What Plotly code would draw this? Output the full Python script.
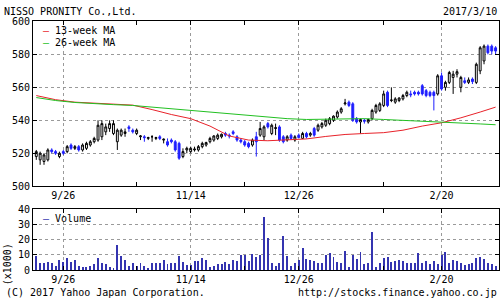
import pandas as pd
import plotly.graph_objects as go

# ---------------- data ----------------
holidays = ["2016-09-19", "2016-09-22", "2016-10-10", "2016-11-03", "2016-11-23",
            "2016-12-23", "2017-01-02", "2017-01-03", "2017-01-09"]
trade_days = pd.bdate_range("2016-09-13", "2017-03-10", freq="C", holidays=holidays)
dates = [f"{d.month}/{d.day}" for d in trade_days]

open_ = [518, 516, 515, 516, 522, 521, 518, 521, 521, 525,
         523, 524, 522, 523, 525, 527, 528, 530, 533, 535,
         532, 527, 531, 532, 536, 534, 532, 530, 530, 529,
         530, 529, 530, 528, 527, 528, 527, 526, 518, 522,
         521, 522, 522, 524, 525, 527, 528, 529, 530, 532,
         531, 533, 530, 528, 527, 526, 525, 530, 531, 530,
         538, 532, 535, 536, 530, 528, 531, 528, 531, 529,
         532, 531, 535, 534, 536, 537, 538, 540, 542, 545,
         550, 551, 550, 541, 539, 540, 539, 541, 545, 546,
         549, 557, 552, 551, 552, 553, 555, 556, 557, 557,
         561, 558, 557, 557, 556, 567, 560, 563, 566, 568,
         560, 564, 563, 565, 563, 570, 576, 585, 585, 584]
high = [522, 521, 520, 523, 523, 522, 521, 522, 525, 526,
        525, 525, 526, 527, 528, 530, 540, 540, 538, 540,
        540, 535, 535, 535, 537, 535, 535, 531, 531, 530,
        531, 530, 531, 529, 529, 529, 528, 527, 523, 524,
        524, 524, 525, 527, 527, 530, 531, 532, 532, 533,
        532, 534, 531, 529, 528, 527, 529, 533, 539, 537,
        539, 538, 538, 537, 531, 531, 532, 531, 532, 533,
        533, 533, 536, 538, 539, 541, 542, 543, 546, 548,
        553, 552, 551, 542, 541, 541, 541, 547, 550, 551,
        558, 558, 560, 554, 554, 556, 558, 558, 558, 558,
        562, 559, 558, 558, 568, 569, 564, 570, 570, 571,
        567, 566, 566, 566, 575, 585, 586, 586, 586, 585]
low = [516, 513, 513, 515, 520, 519, 517, 519, 520, 522,
       522, 521, 521, 522, 524, 526, 527, 528, 531, 533,
       531, 522, 530, 530, 533, 532, 531, 528, 527, 528,
       527, 528, 528, 526, 524, 526, 521, 516, 517, 520,
       520, 521, 521, 523, 524, 526, 527, 528, 529, 530,
       529, 531, 527, 526, 524, 523, 524, 518, 530, 528,
       535, 531, 531, 527, 526, 527, 528, 527, 529, 529,
       529, 530, 530, 533, 535, 536, 537, 539, 541, 544,
       549, 548, 539, 538, 532, 538, 538, 540, 544, 545,
       548, 548, 551, 550, 551, 552, 554, 554, 555, 555,
       555, 554, 554, 546, 555, 558, 558, 562, 556, 566,
       557, 562, 562, 562, 562, 568, 574, 580, 580, 580]
close = [521, 520, 519, 522, 521, 520, 520, 520, 524, 523,
         524, 522, 525, 526, 527, 529, 537, 538, 536, 538,
         538, 534, 534, 533, 535, 533, 534, 530.5, 529.5, 529.5,
         530, 529.5, 529, 528.5, 525, 527, 522, 517, 521, 523,
         523, 522.5, 524, 526, 526.5, 529, 530.5, 531, 531.5, 531,
         530.5, 532, 528, 527, 525, 524, 528, 527, 535, 536,
         536, 537, 535.5, 528, 527, 530, 529, 530, 529.5, 532,
         530, 532, 531, 537, 538, 540, 541, 542.5, 545, 547,
         550.5, 549, 540, 539, 540.5, 539.5, 540.5, 546, 549, 550,
         556, 549, 552.3, 553, 553.5, 555, 557, 555.5, 556, 556,
         556, 555, 555, 555, 567, 559, 563, 569, 568, 569.5,
         566, 563, 564.5, 563.5, 574, 584, 585, 581, 582, 582]

volume = [8.8, 4.2, 4.2, 5, 4.2, 2.5, 6.7, 5.3, 7.6, 5,
          6.3, 2.5, 2, 2, 2.5, 3.6, 7.8, 4.2, 3.6, 2,
          1.3, 16.2, 8.8, 6.3, 2.5, 4.2, 2.5, 4.2, 2.5, 1.3,
          4.2, 4.2, 4.2, 6.7, 3.6, 4.2, 4.2, 8.8, 5, 3,
          3, 5.7, 5.7, 7.8, 6.3, 1.5, 2.5, 3.6, 3.6, 5,
          3.6, 6.7, 5.7, 9.5, 9.5, 5.7, 10.5, 8.4, 9.9, 34.5,
          21, 4.6, 2.5, 4.2, 21.9, 8.8, 2.5, 4.2, 6.3, 14.5,
          7.2, 6.7, 5.7, 4.2, 4.2, 9.5, 10.9, 8.4, 5, 4.2,
          12.6, 2, 9.5, 7.2, 11.8, 3.6, 4.2, 24.6, 2, 4.2,
          7.8, 8.2, 5, 5.7, 6.3, 5.7, 4.2, 4.2, 4.2, 10.9,
          4.2, 5.7, 3.6, 5.7, 3.6, 9.9, 11.4, 4.2, 6.3, 5.7,
          4.2, 3, 3.6, 4.2, 7.8, 8.4, 7.2, 4.2, 3.6, 2.5]

ma_pos = [0, 5, 10, 15, 20, 25, 30, 35, 40, 45, 50, 55, 60, 65, 70, 75, 80,
          85, 90, 95, 100, 105, 110, 115, 119]
ma13 = [555, 552.5, 551, 550.5, 550, 549.2, 546.5, 543.5, 541, 536.5, 530.5, 528,
        527.6, 528, 528.7, 530.2, 531.4, 532, 532.5, 534, 536.5, 538.5, 541.5, 545, 548]
ma26 = [553.8, 552, 550.8, 550, 549.5, 549, 548, 547, 546, 545, 544, 543, 542,
        541, 540.5, 540.8, 541, 541, 540.5, 540, 539.7, 539.2, 538.5, 537.8, 537.3]

major_labels = ["9/26", "11/14", "12/26", "2/20"]
minor_labels = ["10/24", "12/5", "1/30"]

# ---------------- figure ----------------
xi = list(range(len(dates)))
major_idx = [dates.index(t) for t in major_labels]
minor_idx = [dates.index(t) for t in minor_labels]

BLUE = "#1f1fff"
fig = go.Figure()
fig.add_trace(go.Candlestick(
    x=xi, open=open_, high=high, low=low, close=close,
    increasing=dict(line=dict(color="black", width=1), fillcolor="white"),
    decreasing=dict(line=dict(color=BLUE, width=1), fillcolor=BLUE),
    whiskerwidth=0, xaxis="x", yaxis="y", showlegend=False, hoverinfo="skip"))
fig.add_trace(go.Scatter(x=ma_pos, y=ma13, mode="lines", line=dict(color="#e8222a", width=1),
                         xaxis="x", yaxis="y", showlegend=False, name="13-week MA"))
fig.add_trace(go.Scatter(x=ma_pos, y=ma26, mode="lines", line=dict(color="#22c022", width=1),
                         xaxis="x", yaxis="y", showlegend=False, name="26-week MA"))
fig.add_trace(go.Bar(x=xi, y=volume, width=0.25, marker=dict(color="#3434b0", line=dict(width=0)),
                     xaxis="x2", yaxis="y2", showlegend=False, name="Volume"))

MONO = "DejaVu Sans Mono"
xcommon = dict(
    range=[-0.85, 119.75], domain=[0.066, 0.997],
    showline=True, linecolor="black", linewidth=1, mirror="allticks",
    ticks="inside", ticklen=4, tickcolor="black", tickwidth=1,
    tickmode="array", tickvals=major_idx, ticktext=major_labels,
    showgrid=True, gridcolor="#9a9a9a", griddash="dot", gridwidth=1, zeroline=False,
    tickfont=dict(family=MONO, size=10, color="black"),
    minor=dict(tickmode="array", tickvals=minor_idx, ticks="inside", ticklen=4,
               tickcolor="black", showgrid=False),
    fixedrange=True,
)
ycommon = dict(
    showline=True, linecolor="black", linewidth=1, mirror="allticks",
    ticks="inside", ticklen=4, tickcolor="black",
    showgrid=True, gridcolor="#9a9a9a", griddash="dot", gridwidth=1, zeroline=False,
    tickfont=dict(family=MONO, size=10, color="black"), fixedrange=True,
)

fig.update_layout(
    width=500, height=303, autosize=False,
    margin=dict(l=0, r=0, t=0, b=0),
    paper_bgcolor="white", plot_bgcolor="white",
    xaxis=dict(anchor="y", rangeslider=dict(visible=False), **xcommon),
    xaxis2=dict(anchor="y2", **xcommon),
    yaxis=dict(anchor="x", domain=[0.3828, 0.9472], range=[500, 600],
               tickmode="array", tickvals=[500, 520, 540, 560, 580, 600], **ycommon),
    yaxis2=dict(anchor="x2", domain=[0.0957, 0.3036], range=[0, 40],
                tickmode="array", tickvals=[0, 10, 20, 30, 40], **ycommon),
    bargap=0,
)

def ann(text, x, y, xanchor="left", yanchor="middle", size=10, textangle=0):
    fig.add_annotation(text=text, x=x / 500, y=1 - y / 303, xref="paper", yref="paper",
                       xanchor=xanchor, yanchor=yanchor, showarrow=False, textangle=textangle,
                       font=dict(family=MONO, size=size, color="black"))

ann("NISSO PRONITY Co.,Ltd.", 2, 6)
ann("2017/3/10", 499, 6, xanchor="right")
ann('<span style="color:#e8222a">–</span> 13-week MA', 41, 25)
ann('<span style="color:#22c022">–</span> 26-week MA', 41, 38)
ann('<span style="color:#3434b0">–</span> Volume', 41, 220)
ann("(x1000)", 7, 268, xanchor="center", textangle=-90)
ann("(C) 2017 Yahoo Japan Corporation.", 4, 297)
ann("http://stocks.finance.yahoo.co.jp", 499, 297, xanchor="right")

fig.write_html("out.html")
